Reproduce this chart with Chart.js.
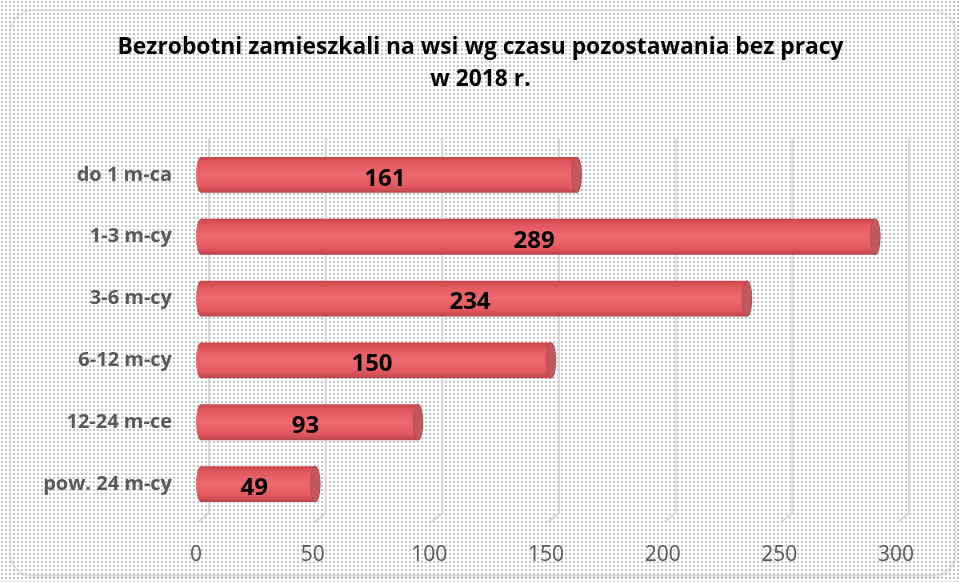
<!DOCTYPE html>
<html>
<head>
<meta charset="utf-8">
<script src="https://cdn.jsdelivr.net/npm/chart.js@4.4.1/dist/chart.umd.min.js"></script>
<style>
    html, body { margin: 0; padding: 0; background: #fff; }
    #wrap {
        position: relative;
        width: 959px;
        height: 582px;
        background-color: #fff;
        background-image: radial-gradient(#c4c4c4 0.8px, transparent 1px);
        background-size: 4px 4px;
    }
    #frame {
        position: absolute;
        left: 10px; top: 10px;
        width: 943px; height: 564px;
        border: 1.5px solid #d4d4d4;
        border-radius: 22px;
        box-shadow: 1px 1px 3px rgba(0,0,0,0.15);
        pointer-events: none;
    }
    canvas { position: absolute; left: 0; top: 0; }
</style>
</head>
<body>
<div id="wrap">
    <div id="frame"></div>
    <canvas id="barChart" width="959" height="582"></canvas>
</div>
<script>
const categories = ['do 1 m-ca', '1-3 m-cy', '3-6 m-cy', '6-12 m-cy', '12-24 m-ce', 'pow. 24 m-cy'];
const values = [161, 289, 234, 150, 93, 49];
const xTicks = [0, 50, 100, 150, 200, 250, 300];
const titleLines = ['Bezrobotni zamieszkali na wsi wg czasu pozostawania bez pracy', 'w 2018 r.'];

const FONT = "'Open Sans', 'DejaVu Sans', sans-serif";

// title centred on the whole canvas (the built-in one centres on the padded box)
const pageTitle = {
    id: 'pageTitle',
    afterDraw(chart) {
        const ctx = chart.ctx;
        ctx.save();
        ctx.fillStyle = '#000';
        ctx.font = 'bold 22.8px ' + FONT;
        ctx.textAlign = 'center';
        ctx.textBaseline = 'middle';
        titleLines.forEach((line, i) => {
            ctx.fillText(line, chart.width / 2 + 1, 48 + i * 32);
        });
        ctx.restore();
    }
};

// gridlines with a small 3D foot, drawn behind the bars
const floorGrid = {
    id: 'floorGrid',
    beforeDatasetsDraw(chart) {
        const ctx = chart.ctx;
        const xs = chart.scales.x;
        const area = chart.chartArea;
        ctx.save();
        ctx.strokeStyle = '#d9d9d9';
        ctx.lineWidth = 2;
        xTicks.forEach(v => {
            const px = xs.getPixelForValue(v) + 8;
            ctx.beginPath();
            ctx.moveTo(px, area.top - 5);
            ctx.lineTo(px, area.bottom - 2);
            ctx.lineTo(px - 11, area.bottom + 7);
            ctx.stroke();
        });
        ctx.restore();
    }
};

// draw each bar as a cylinder lying on its side, plus the value label
const cylinders = {
    id: 'cylinders',
    afterDatasetsDraw(chart) {
        const ctx = chart.ctx;
        const meta = chart.getDatasetMeta(0);
        ctx.save();
        meta.data.forEach((bar, i) => {
            const h = bar.height;
            const top = bar.y - h / 2;
            const x0 = bar.base, x1 = bar.x;
            const rx = 5;
            const g = ctx.createLinearGradient(0, top, 0, top + h);
            g.addColorStop(0, '#c9474c');
            g.addColorStop(0.18, '#e2585e');
            g.addColorStop(0.5, '#ec6a6f');
            g.addColorStop(0.82, '#e2585e');
            g.addColorStop(1, '#b9454a');
            ctx.fillStyle = g;
            ctx.beginPath();
            ctx.ellipse(x0, bar.y, rx, h / 2, 0, Math.PI / 2, Math.PI * 1.5);
            ctx.lineTo(x1, top);
            ctx.ellipse(x1, bar.y, rx, h / 2, 0, -Math.PI / 2, Math.PI / 2);
            ctx.closePath();
            ctx.fill();
            // end cap
            ctx.fillStyle = '#c2585d';
            ctx.beginPath();
            ctx.ellipse(x1, bar.y, rx, h / 2, 0, 0, Math.PI * 2);
            ctx.fill();
            ctx.strokeStyle = 'rgba(150,50,55,0.35)';
            ctx.lineWidth = 1;
            ctx.stroke();
            // value label
            ctx.fillStyle = '#000';
            ctx.font = 'bold 24px ' + FONT;
            ctx.textAlign = 'center';
            ctx.textBaseline = 'middle';
            ctx.fillText(values[i], (x0 + x1) / 2 - 4, bar.y + 4);
        });
        ctx.restore();
    }
};

new Chart(document.getElementById('barChart'), {
    type: 'bar',
    data: {
        labels: categories,
        datasets: [{
            data: values,
            backgroundColor: 'rgba(0,0,0,0)',
            borderWidth: 0,
            barPercentage: 0.58,
            categoryPercentage: 1.0
        }]
    },
    options: {
        indexAxis: 'y',
        responsive: false,
        animation: false,
        layout: { padding: { left: 0, right: 58, top: 144, bottom: 0 } },
        scales: {
            x: {
                min: 0,
                max: 300,
                afterBuildTicks(scale) {
                    scale.ticks = xTicks.map(v => ({ value: v }));
                },
                afterFit(scale) { scale.height = 67; },
                grid: { display: false, drawTicks: false },
                border: { display: false },
                ticks: {
                    padding: 27,
                    labelOffset: -5,
                    color: '#595959',
                    font: { family: FONT, size: 21 },
                    callback: v => v
                }
            },
            y: {
                afterFit(scale) { scale.width = 201; },
                grid: { display: false, drawTicks: false },
                border: { display: false },
                ticks: {
                    padding: 29,
                    color: '#595959',
                    font: { family: FONT, size: 20, weight: 'bold' }
                }
            }
        },
        plugins: {
            legend: { display: false },
            tooltip: { enabled: false },
            title: { display: false }
        }
    },
    plugins: [floorGrid, cylinders, pageTitle]
});
</script>
</body>
</html>
